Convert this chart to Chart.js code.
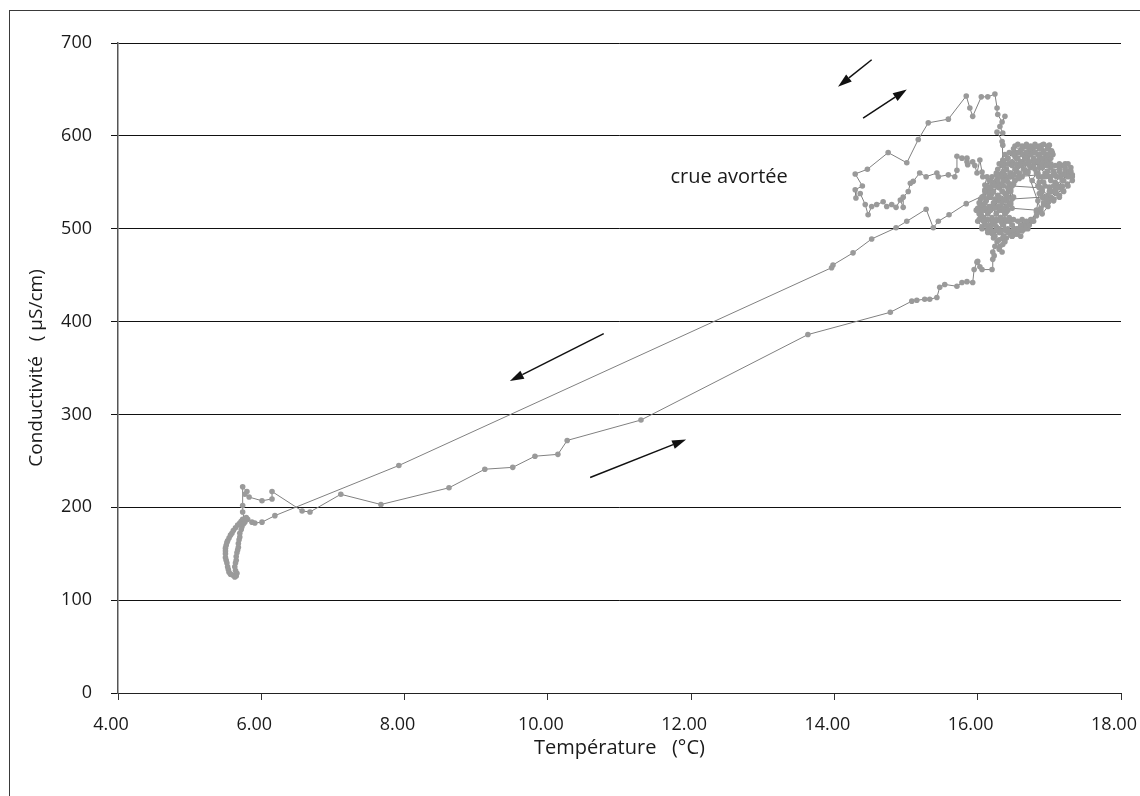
<!DOCTYPE html>
<html><head><meta charset="utf-8">
<script src="https://cdn.jsdelivr.net/npm/chart.js@4.4.1/dist/chart.umd.min.js"></script>
<style>
html,body{margin:0;padding:0;background:#fff;}
#wrap{position:relative;width:1140px;height:796px;overflow:hidden;background:#fff;}
#frame{position:absolute;left:9px;top:10px;width:1200px;height:900px;border:1.5px solid #3a3a3a;box-sizing:border-box;}
canvas{position:absolute;left:0;top:0;}
</style></head><body>
<div id="wrap"><div id="frame"></div><canvas id="c" width="1140" height="796"></canvas></div>
<script>
// ---- data (temperature °C, conductivity µS/cm), in time order ----
const tempWarmA = [16.45,16.55,16.62,16.70,16.78,16.88,16.95,16.85,16.78,16.70,16.62,16.52,16.44,16.38,16.30,16.22,16.15,16.08,16.02,16.06,16.12,16.20,16.28,16.36,16.30,16.24,16.18,16.17];
const condWarmA = [560,566,572,578,583,586,580,574,568,562,556,552,546,538,530,524,518,512,518,526,532,538,545,552,558,550,544,539];

const tempCooling = [15.84,15.60,15.45,15.38,15.28,15.01,14.86,14.52,14.26,13.98,13.96,7.92,6.19,6.01,5.91,5.87,5.81,5.79];
const condCooling = [527,515,508,501,521,508,501,489,474,461,458,245,191,184,183,184,187,189];

const tempCold = [5.74,5.72,5.70,5.67,5.64,5.61,5.59,5.57,5.55,5.53,5.52,5.51,5.50,5.50,5.50,5.50,5.51,5.52,5.53,5.54,5.55,5.57,5.60,5.63,5.65,5.66,5.64,5.63,5.64,5.65,5.65,5.66,5.67,5.68,5.68,5.69,5.70,5.70,5.72,5.73,5.75,5.77,5.74,5.74,5.74,5.80,5.77,5.83,6.01,6.15,6.15];
const condCold = [187,185,183,181,178,175,172,170,167,164,162,159,156,153,150,146,143,140,136,133,130,128,127,125,126,129,132,136,140,143,147,151,154,157,161,165,168,172,176,179,182,184,195,202,222,217,214,211,207,209,217];

const tempWarming = [6.57,6.68,7.11,7.67,8.62,9.12,9.51,9.82,10.14,10.27,11.30,13.63,14.78,15.08,15.15,15.26,15.33,15.43,15.47,15.54,15.71,15.78,15.85,15.93,15.95,15.99,16.03,16.00,16.06,16.20,16.21,16.23,16.21,16.24,16.27,16.31,16.34,16.30,16.35,16.35,16.38];
const condWarming = [196,195,214,203,221,241,243,255,257,272,294,386,410,422,423,424,424,426,437,440,438,442,443,442,456,464,459,465,456,456,467,471,475,481,486,481,475,478,483,490,499];

const tempWarmB = [16.45,16.52,16.60,16.68,16.72,16.64,16.56,16.48,16.40,16.32,16.25,16.18,16.12,16.05,15.98,16.02,16.08,16.14,16.20,16.26,16.32,16.40,16.48,16.56,16.64,16.72,16.80,16.90,16.98,17.03,16.96,16.88,16.80,16.85,16.92,17.00,17.08,17.15,17.22,17.28,17.32,17.25,17.18,17.10,17.02,16.95,16.88,16.82,16.75,16.70,16.62,16.55,16.48,16.40,16.32,16.26,16.20,16.14,16.08,16.12,16.18,16.25,16.32,16.40,16.46,16.42,16.35,16.30,16.38,16.35];
const condWarmB = [495,494,498,502,506,504,500,504,508,512,508,504,510,515,520,528,535,540,546,552,558,564,570,576,580,584,588,590,588,584,576,570,564,556,550,545,550,556,562,558,552,548,542,538,532,526,520,514,508,500,498,494,492,490,496,502,510,518,524,530,534,530,524,518,526,534,540,548,556,558];

const tempCrue = [16.35,16.35,16.34,16.27,16.35,16.31,16.38,16.34,16.28,16.27,16.24,16.14,16.05,15.93,15.89,15.84,15.59,15.31,15.17,15.01,14.75,14.46,14.29,14.39,14.29,14.30,14.36,14.43,14.47,14.52,14.59,14.68,14.73,14.80,14.86,14.92,14.96,14.96,15.03,15.06,15.10,15.19,15.28,15.43,15.45,15.59,15.68,15.71,15.71,15.78,15.85,15.85,15.86,15.93,15.96,15.99,16.03,16.06,16.07,16.13,16.10,16.14];
const condCrue = [574,590,594,604,603,610,621,615,623,630,645,642,642,621,630,643,618,614,596,571,582,564,559,546,542,533,538,526,515,524,526,529,524,526,523,531,523,534,540,549,551,560,556,560,556,558,556,563,578,576,576,572,569,572,568,560,574,561,556,556,547,544];

const tempWarmC = [16.20,16.28,16.36,16.44,16.52,16.52,16.60,16.68,16.76,16.84,16.92,17.00,17.05,16.98,16.90,16.82,16.76,16.84,16.90,16.96,17.04,17.12,17.20,17.26,17.30,17.22,17.14,17.06,17.00,16.94,16.86,16.78,16.70,16.62,16.54,16.48,16.42,16.46,16.50,16.44,16.38,16.34,16.28,16.22,16.16,16.10,16.04,16.00,16.06,16.14,16.22,16.30,16.38,16.46,16.54,16.60,16.68,16.76,16.82,16.84,16.86,16.92,16.98,17.06,17.14,17.20,17.26,17.32,17.28,17.18,17.10,17.02,16.94,16.86,16.80,16.74,16.66,16.58,16.50,16.44,16.40,16.34,16.26,16.18,16.10,16.04,16.10,16.18,16.26,16.34,16.42,16.50];
const condWarmC = [548,554,562,570,578,589,584,588,585,580,584,590,580,572,566,560,552,546,540,534,540,546,552,560,566,570,566,562,556,560,566,572,574,568,562,556,550,542,534,526,516,506,498,494,500,506,512,508,502,496,490,488,486,494,498,503,506,510,518,530,538,526,528,530,534,540,546,556,562,558,556,566,574,578,572,566,560,554,548,540,530,520,516,524,520,532,542,552,560,568,576,582];

const tempWarmD = [16.50,16.56,16.62,16.68,16.74,16.80,16.86,16.92,16.98,
  17.02,16.96,16.90,16.84,16.78,16.72,16.66,16.60,16.54,16.48,16.42,16.36,
  16.28,16.34,16.40,16.46,16.52,16.58,16.64,16.70,
  16.52,16.46,16.40,16.34,16.28,16.22,16.16,
  16.10,16.16,16.22,16.28,16.34,16.40,16.46,
  16.46,16.40,16.34,16.28,16.22,16.16,16.10,16.04,
  16.02,16.08,16.14,16.20,16.26,16.32,16.38,16.44,
  16.72,16.66,16.60,16.54,16.48,16.42,16.36,16.30,16.24,16.18,16.12,16.06,
  16.18,16.24,16.30,16.36,16.42,16.48,16.54,16.60,
  16.78,16.86,16.92,16.98,16.90,16.86,16.94,17.02,17.10,17.18,17.24,17.30,17.22,17.14,17.06,16.98,16.90,16.84,16.86,16.92,17.00,17.08,17.14,17.06,16.98,16.90];
const condWarmD = [586,582,586,582,586,582,586,582,586,
  576,572,576,572,576,572,576,572,576,572,576,572,
  564,560,564,560,564,560,564,560,
  552,548,552,548,552,548,552,
  540,536,540,536,540,536,540,
  528,524,528,524,528,524,528,524,
  516,512,516,512,516,512,516,512,
  504,500,504,500,504,500,504,500,504,500,504,500,
  496,492,496,492,496,492,496,492,
  508,518,528,536,542,550,556,552,548,552,558,562,566,562,558,562,566,560,544,534,540,542,536,532,524,516];

const tempWarmE = [16.56,16.62,16.68,16.74,16.80,16.86,16.92,16.98,
  17.04,16.98,16.92,16.86,16.80,16.74,16.68,16.62,16.56,16.50,16.44,16.38,
  16.30,16.36,16.42,16.48,16.54,16.60,16.66,16.72,16.90,16.96,17.02,17.08,17.14,17.20,17.26,
  17.32,17.26,17.20,17.14,17.08,17.02,16.96,16.90,16.84,16.56,16.50,16.44,16.38,16.32,16.26,16.20,
  16.12,16.18,16.24,16.30,16.36,16.42,16.48,16.88,16.94,17.00,17.06,17.12,17.18,
  17.02,16.96,16.90,16.48,16.42,16.36,16.30,16.24,16.18,16.12,16.06,
  16.00,16.06,16.12,16.18,16.24,16.30,16.36,16.42,16.48,16.82,16.88,
  16.74,16.68,16.62,16.56,16.50,16.44,16.38,16.32,16.26,16.20,16.14,16.08,16.02,
  16.14,16.20,16.26,16.32,16.38,16.44,16.50,16.56,16.62];
const condWarmE = [591,589,591,589,591,589,591,589,
  582,580,582,580,582,580,582,580,582,580,582,580,
  570,568,570,568,570,568,570,568,570,568,570,568,570,568,570,
  558,556,558,556,558,556,558,556,558,556,558,556,558,556,558,556,
  546,544,546,544,546,544,546,544,546,544,546,544,546,
  534,532,534,532,534,532,534,532,534,532,534,
  522,520,522,520,522,520,522,520,522,520,522,
  510,508,510,508,510,508,510,508,510,508,510,508,510,
  499,497,499,497,499,497,499,497,499];

const xTicks = [4,6,8,10,12,14,16,18];
const yTicks = [0,100,200,300,400,500,600,700];

// annotations (data units)
const arrows = [
  {from:[14.52,682], to:[14.05,653]},
  {from:[14.40,619], to:[15.01,650]},
  {from:[10.78,387], to:[9.47,336]},
  {from:[10.59,232], to:[11.93,273]}
];
const noteText = 'crue avortée';
const notePos = [12.53,555];

// ---- build ----
const temps = [].concat(tempWarmA,tempCooling,tempCold,tempWarming,tempWarmB,tempCrue,tempWarmC,tempWarmD,tempWarmE);
const conds = [].concat(condWarmA,condCooling,condCold,condWarming,condWarmB,condCrue,condWarmC,condWarmD,condWarmE);
const points = temps.map((t,i)=>({x:t,y:conds[i]}));

const FONT = '"Open Sans", "Noto Sans", sans-serif';

const annot = {
  id:'annot',
  afterDatasetsDraw(chart){
    const {ctx, scales:{x,y}} = chart;
    ctx.save();
    ctx.strokeStyle='#111'; ctx.fillStyle='#111'; ctx.lineWidth=1.5;
    for (const a of arrows){
      const x1=x.getPixelForValue(a.from[0]), y1=y.getPixelForValue(a.from[1]);
      const x2=x.getPixelForValue(a.to[0]), y2=y.getPixelForValue(a.to[1]);
      const ang=Math.atan2(y2-y1,x2-x1);
      const L=14, W=4.5;
      const bx=x2-L*Math.cos(ang), by=y2-L*Math.sin(ang);
      ctx.beginPath(); ctx.moveTo(x1,y1); ctx.lineTo(bx,by); ctx.stroke();
      ctx.beginPath(); ctx.moveTo(x2,y2);
      ctx.lineTo(bx+W*Math.sin(ang), by-W*Math.cos(ang));
      ctx.lineTo(bx-W*Math.sin(ang), by+W*Math.cos(ang));
      ctx.closePath(); ctx.fill();
    }
    ctx.font='20px '+FONT; ctx.fillStyle='#1a1a1a'; ctx.textAlign='center'; ctx.textBaseline='middle';
    ctx.fillText(noteText, x.getPixelForValue(notePos[0]), y.getPixelForValue(notePos[1]));
    ctx.restore();
  }
};

new Chart(document.getElementById('c'), {
  type:'scatter',
  data:{datasets:[{
    data:points, showLine:true, borderColor:'#808080', borderWidth:1,
    pointRadius:2.8, pointHoverRadius:2.8, pointBackgroundColor:'#9a9a9a', pointBorderWidth:0, tension:0
  }]},
  options:{
    responsive:false, animation:false, devicePixelRatio:1,
    layout:{padding:{top:43,right:19,bottom:0,left:0}},
    plugins:{legend:{display:false}, tooltip:{enabled:false}},
    scales:{
      x:{
        type:'linear', min:4, max:18,
        afterBuildTicks(s){ s.ticks = xTicks.map(v=>({value:v})); },
        ticks:{callback:v=>v.toFixed(2), font:{family:FONT,size:18}, color:'#1a1a1a', padding:14, labelOffset:-7, maxRotation:0, autoSkip:false},
        grid:{drawOnChartArea:false, drawTicks:true, tickLength:7, color:'#333'},
        border:{color:'#222', width:1},
        title:{display:true, text:'Température   (°C)', font:{family:FONT,size:20}, color:'#1a1a1a', padding:{top:0,bottom:36}},
        afterFit(s){ s.height=103; s.paddingLeft=0; s.paddingRight=0; }
      },
      y:{
        type:'linear', min:0, max:700,
        afterBuildTicks(s){ s.ticks = yTicks.map(v=>({value:v})); },
        ticks:{font:{family:FONT,size:18}, color:'#1a1a1a', padding:19},
        grid:{color:'#111', lineWidth:1, tickLength:7},
        border:{color:'#555', width:1.5},
        title:{display:true, text:'Conductivité   ( µS/cm)', font:{family:FONT,size:19}, color:'#1a1a1a', padding:{top:25,bottom:0}},
        afterFit(s){ s.width=118; }
      }
    }
  },
  plugins:[annot]
});
</script>
</body></html>
